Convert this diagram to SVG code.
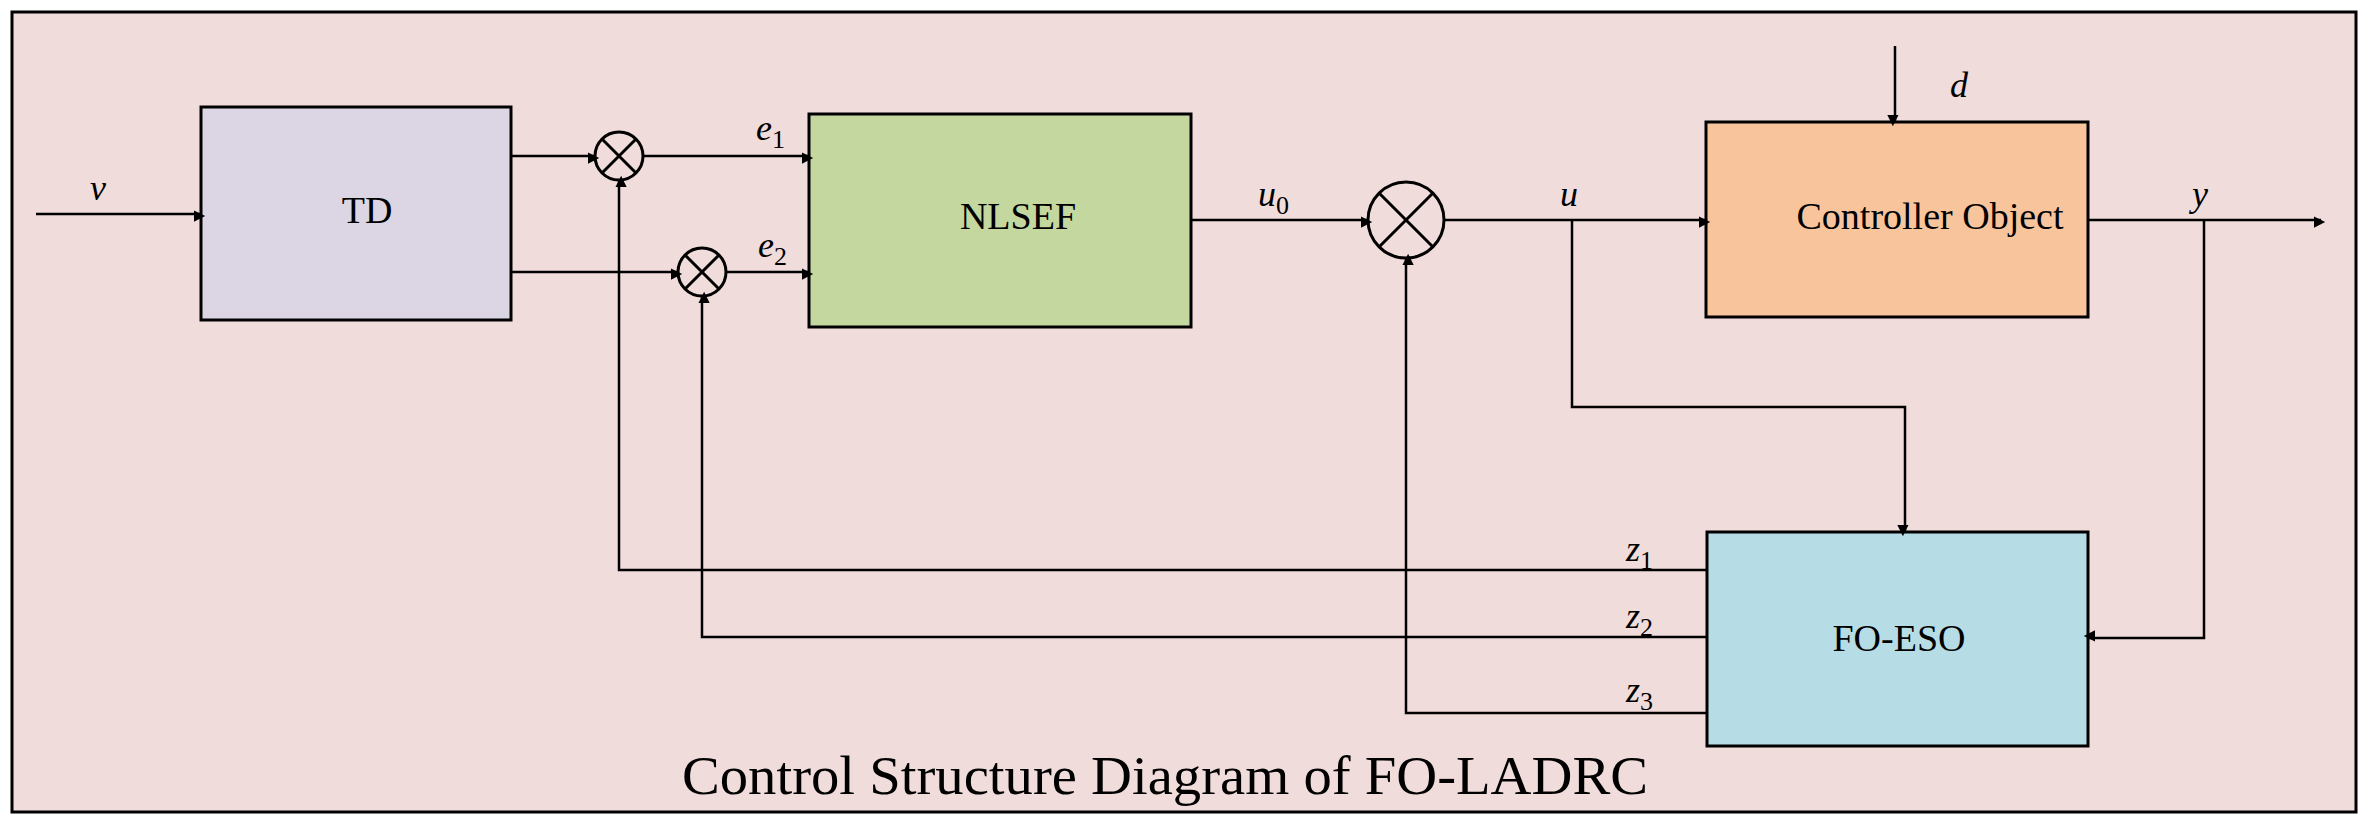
<svg xmlns="http://www.w3.org/2000/svg" width="2368" height="828" viewBox="0 0 2368 828">
<style>
.box{stroke:#000;stroke-width:3}
.ln{fill:none;stroke:#000;stroke-width:2.5}
.t{font-family:"Liberation Serif",serif;font-size:38px;text-anchor:middle;dominant-baseline:middle}
.v{font-family:"Liberation Serif",serif;font-size:36px;font-style:italic}
.s{font-style:normal;font-size:26px}
.sum{fill:none;stroke:#000;stroke-width:3}
</style>
<defs>
<marker id="a" viewBox="0 0 10 10" refX="10" refY="5" markerWidth="7" markerHeight="7" markerUnits="userSpaceOnUse" orient="auto" style="overflow:visible">
<path d="M0,0 L10,5 L0,10 z" transform="scale(1.6)" fill="#000"/>
</marker>
</defs>
<rect x="12" y="12" width="2344" height="800" fill="#f0dcdb" stroke="#000" stroke-width="3"/>
<g id="TD"><rect class="box" x="201" y="107" width="310" height="213" fill="#dcd6e4"/><text class="t" x="367" y="214">TD</text></g>
<g id="NLSEF"><rect class="box" x="809" y="114" width="382" height="213" fill="#c4d79f"/><text class="t" x="1018" y="220">NLSEF</text></g>
<g id="Controller"><rect class="box" x="1706" y="122" width="382" height="195" fill="#f8c49c"/><text class="t" x="1930" y="220">Controller Object</text></g>
<g id="FOESO"><rect class="box" x="1707" y="532" width="381" height="214" fill="#b6dde6"/><text class="t" x="1899" y="642">FO-ESO</text></g>
<g id="sum1"><circle class="sum" cx="619" cy="156" r="24"/><path class="sum" d="M602,139 L636,173 M636,139 L602,173"/></g>
<g id="sum2"><circle class="sum" cx="702" cy="272" r="24"/><path class="sum" d="M685,255 L719,289 M719,255 L685,289"/></g>
<g id="sum3"><circle class="sum" cx="1406" cy="220" r="38"/><path class="sum" d="M1379,193 L1433,247 M1433,193 L1379,247"/></g>
<g id="connectors">
<path class="ln" d="M36,214 H201" marker-end="url(#a)"/>
<path class="ln" d="M511,156 H595" marker-end="url(#a)"/>
<path class="ln" d="M511,272 H678" marker-end="url(#a)"/>
<path class="ln" d="M643,156 H809" marker-end="url(#a)"/>
<path class="ln" d="M726,272 H809" marker-end="url(#a)"/>
<path class="ln" d="M1191,220 H1368" marker-end="url(#a)"/>
<path class="ln" d="M1444,220 H1706" marker-end="url(#a)"/>
<path class="ln" d="M1895,46 V122" marker-end="url(#a)"/>
<path class="ln" d="M2088,220 H2321" marker-end="url(#a)"/>
<path class="ln" d="M1572,220 V407 H1905 V532" marker-end="url(#a)"/>
<path class="ln" d="M2204,220 V638 H2088" marker-end="url(#a)"/>
<path class="ln" d="M1707,570 H619 V180" marker-end="url(#a)"/>
<path class="ln" d="M1707,637 H702 V296" marker-end="url(#a)"/>
<path class="ln" d="M1707,713 H1406 V258" marker-end="url(#a)"/>
</g>
<g id="labels">
<text class="v" x="90" y="200">v</text>
<text class="v" x="756" y="140">e<tspan class="s" dy="8">1</tspan></text>
<text class="v" x="758" y="257">e<tspan class="s" dy="8">2</tspan></text>
<text class="v" x="1258" y="206">u<tspan class="s" dy="8">0</tspan></text>
<text class="v" x="1560" y="206">u</text>
<text class="v" x="1950" y="97">d</text>
<text class="v" x="2192" y="206">y</text>
<text class="v" x="1626" y="561">z<tspan class="s" dy="8">1</tspan></text>
<text class="v" x="1626" y="628">z<tspan class="s" dy="8">2</tspan></text>
<text class="v" x="1626" y="702">z<tspan class="s" dy="8">3</tspan></text>
</g>
<text x="1165" y="794" font-family="Liberation Serif,serif" font-size="54" text-anchor="middle" textLength="966" lengthAdjust="spacingAndGlyphs">Control Structure  Diagram of FO-LADRC</text>
</svg>
